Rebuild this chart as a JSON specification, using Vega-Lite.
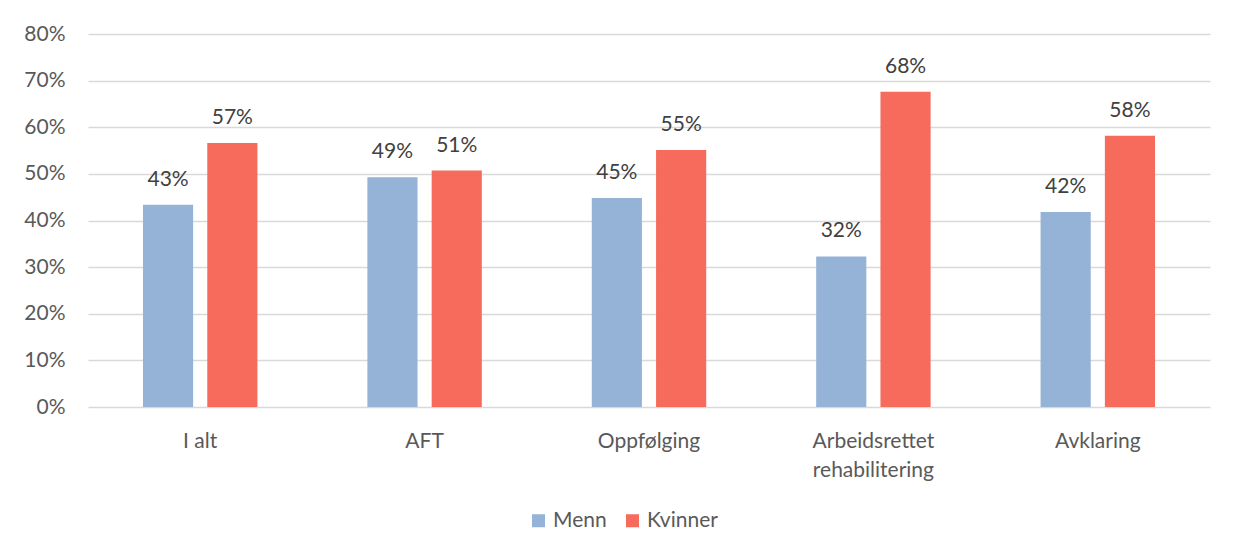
{
  "$schema": "https://vega.github.io/schema/vega-lite/v6.json",
  "width": 1122,
  "height": 373,
  "autosize": {"type": "none"},
  "padding": {"left": 88, "top": 34, "right": 27, "bottom": 146},
  "background": "white",
  "config": {"view": {"stroke": null}},
  "data": {
    "values": [
      {"tiltak": "I alt", "kjonn": "Menn", "andel": 0.434},
      {"tiltak": "I alt", "kjonn": "Kvinner", "andel": 0.566},
      {"tiltak": "AFT", "kjonn": "Menn", "andel": 0.493},
      {"tiltak": "AFT", "kjonn": "Kvinner", "andel": 0.507},
      {"tiltak": "Oppfølging", "kjonn": "Menn", "andel": 0.448},
      {"tiltak": "Oppfølging", "kjonn": "Kvinner", "andel": 0.551},
      {"tiltak": "Arbeidsrettet rehabilitering", "kjonn": "Menn", "andel": 0.323},
      {"tiltak": "Arbeidsrettet rehabilitering", "kjonn": "Kvinner", "andel": 0.676},
      {"tiltak": "Avklaring", "kjonn": "Menn", "andel": 0.418},
      {"tiltak": "Avklaring", "kjonn": "Kvinner", "andel": 0.582}
    ]
  },
  "encoding": {
    "x": {
      "field": "tiltak",
      "type": "nominal",
      "sort": ["I alt", "AFT", "Oppfølging", "Arbeidsrettet rehabilitering", "Avklaring"],
      "scale": {"paddingInner": 0.49, "paddingOuter": 0.245},
      "axis": {
        "title": null,
        "labelAngle": 0,
        "domain": false,
        "ticks": false,
        "grid": false,
        "labelPadding": 23,
        "labelFont": "Lato",
        "labelFontSize": 21,
        "labelColor": "#595959",
        "labelLineHeight": 29,
        "labelExpr": "datum.label == 'Arbeidsrettet rehabilitering' ? ['Arbeidsrettet', 'rehabilitering'] : datum.label"
      }
    },
    "xOffset": {
      "field": "kjonn",
      "type": "nominal",
      "sort": ["Menn", "Kvinner"],
      "scale": {"paddingInner": 0.22, "paddingOuter": 0}
    },
    "y": {
      "field": "andel",
      "type": "quantitative",
      "scale": {"domain": [0, 0.8], "nice": false},
      "axis": {
        "title": null,
        "format": ".0%",
        "values": [0, 0.1, 0.2, 0.3, 0.4, 0.5, 0.6, 0.7, 0.8],
        "domain": false,
        "ticks": false,
        "grid": true,
        "gridColor": "#d9d9d9",
        "gridWidth": 1.3,
        "labelPadding": 23,
        "labelFont": "Lato",
        "labelFontSize": 21,
        "labelColor": "#595959"
      }
    }
  },
  "layer": [
    {
      "mark": {"type": "bar"},
      "encoding": {
        "color": {
          "field": "kjonn",
          "type": "nominal",
          "scale": {"domain": ["Menn", "Kvinner"], "range": ["#95b3d7", "#f66b5c"]},
          "legend": {
            "title": null,
            "orient": "none",
            "legendX": 440,
            "legendY": 476,
            "direction": "horizontal",
            "symbolType": "square",
            "symbolSize": 169,
            "symbolStrokeWidth": 0,
            "labelFont": "Lato",
            "labelFontSize": 21,
            "labelColor": "#595959",
            "labelOffset": 4,
            "columnPadding": 15
          }
        }
      }
    },
    {
      "mark": {"type": "text", "baseline": "alphabetic", "dy": -19, "font": "Lato", "fontSize": 21, "color": "#404040"},
      "encoding": {
        "text": {"field": "andel", "type": "quantitative", "format": ".0%"}
      }
    }
  ]
}
